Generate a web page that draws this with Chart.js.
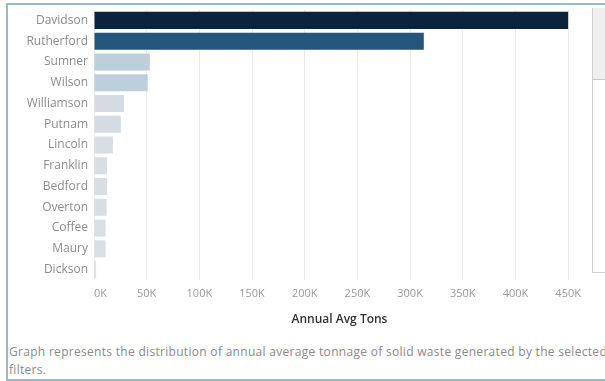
<!DOCTYPE html>
<html>
<head>
<meta charset="utf-8">
<script src="https://cdn.jsdelivr.net/npm/chart.js@4"></script>
<style>
  html, body { margin: 0; padding: 0; background: #fff; }
  #wrap { position: relative; width: 605px; height: 381px; overflow: hidden; font-family: "Open Sans", sans-serif; }
  #frame { position: absolute; left: 6px; top: 3px; width: 640px; height: 374px; border: 2px solid #93bdcf; }
  #chartBox { position: absolute; left: 0; top: 0; width: 592px; height: 327px; }
  #scroll { position: absolute; left: 592px; top: 8px; width: 20px; height: 264px; border-left: 1px solid #cfcfcf; border-bottom: 1px solid #cfcfcf; }
  #thumb { position: absolute; left: 0; top: 0; width: 20px; height: 71px; background: #efefef; border-bottom: 1px solid #c8c8c8; }
  .cap { position: absolute; left: 9px; font-size: 12px; letter-spacing: 0.3px; color: #8a8a8a; white-space: nowrap; }
</style>
</head>
<body>
<div id="wrap">
  <div id="frame"></div>
  <div id="chartBox"><canvas id="chart"></canvas></div>
  <div id="scroll"><div id="thumb"></div></div>
  <div class="cap" style="top:343px">Graph represents the distribution of annual average tonnage of solid waste generated by the selected</div>
  <div class="cap" style="top:361px">filters.</div>
</div>
<script>
// counties, sorted by tonnage
const counties = ['Davidson', 'Rutherford', 'Sumner', 'Wilson', 'Williamson', 'Putnam',
  'Lincoln', 'Franklin', 'Bedford', 'Overton', 'Coffee', 'Maury', 'Dickson'];
// annual average tons
const avgTons = [450000, 313000, 53000, 51000, 28500, 25500, 18000, 12500, 12500, 12000, 11000, 11000, 2000];
const xTicks = [0, 50000, 100000, 150000, 200000, 250000, 300000, 350000, 400000, 450000];
const xMax = 466000;

const barColors = ['#0b233c', '#25557b', '#bdcfdb', '#bdcfdb', '#d3dce2', '#d3dce2',
  '#d6dee3', '#d8dfe4', '#d8dfe4', '#d8dfe4', '#d9e0e5', '#d9e0e5', '#dde3e7'];

const ctx = document.getElementById('chart');
new Chart(ctx, {
  type: 'bar',
  data: {
    labels: counties,
    datasets: [{
      data: avgTons,
      backgroundColor: barColors,
      barPercentage: 0.82,
      categoryPercentage: 1.0
    }]
  },
  options: {
    indexAxis: 'y',
    animation: false,
    responsive: true,
    maintainAspectRatio: false,
    layout: { padding: { top: 10, right: 7, left: 0, bottom: 0 } },
    plugins: { legend: { display: false }, tooltip: { enabled: false } },
    scales: {
      x: {
        min: 0,
        max: xMax,
        // the extra end tick only anchors the 'inner' label alignment
        afterBuildTicks: axis => { axis.ticks = xTicks.concat([xMax]).map(v => ({ value: v })); },
        afterFit: axis => { axis.height = 47; },
        grid: {
          color: c => (c.tick && c.tick.value > 450000) ? 'rgba(0,0,0,0)' : '#ececec',
          drawTicks: false
        },
        border: { display: false },
        ticks: {
          padding: 7,
          align: 'inner',
          color: '#9a9a9a',
          font: { family: 'Open Sans', size: 11 },
          callback: v => v > 450000 ? '' : (v / 1000) + 'K'
        },
        title: {
          display: true,
          text: 'Annual Avg Tons',
          color: '#333',
          font: { family: 'Open Sans', size: 12, weight: '600' },
          padding: { top: 0, bottom: 0 }
        }
      },
      y: {
        afterFit: axis => {
          axis.width = 94;
          axis.paddingTop = 0;
          axis.paddingBottom = 0;
        },
        grid: { display: false, drawTicks: false },
        border: { display: false },
        ticks: {
          padding: 6,
          color: '#8c8c8c',
          font: { family: 'Open Sans', size: 12 }
        }
      }
    }
  }
});
</script>
</body>
</html>
